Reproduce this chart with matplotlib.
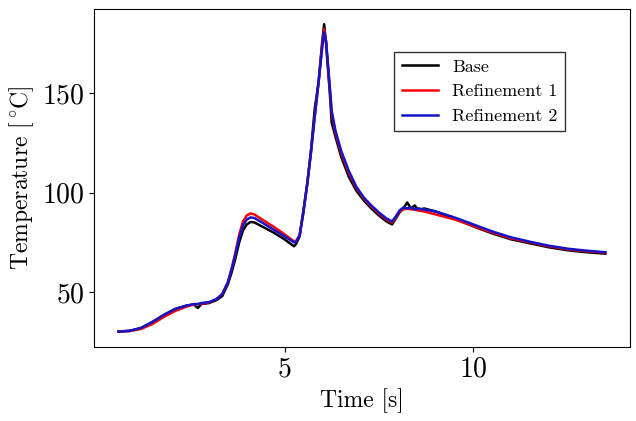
import matplotlib
matplotlib.use('Agg')
import matplotlib.pyplot as plt

# fonts: computer modern look
plt.rcParams['font.family'] = 'cmr10'
plt.rcParams['mathtext.fontset'] = 'cm'
plt.rcParams['axes.formatter.use_mathtext'] = True

# time [s]
time = [0.6, 0.9, 1.2, 1.5, 1.8, 2.1, 2.4, 2.6, 2.7, 2.8, 3.0, 3.2, 3.35, 3.5, 3.6,
        3.7, 3.8, 3.9, 4.0, 4.1, 4.2, 4.4, 4.7, 5.0, 5.25, 5.3, 5.4, 5.5, 5.6, 5.7,
        5.8, 5.9, 6.0, 6.05, 6.1, 6.2, 6.25, 6.35, 6.5, 6.7, 6.9, 7.1, 7.3, 7.5, 7.7,
        7.85, 7.95, 8.05, 8.15, 8.25, 8.35, 8.45, 8.55, 8.7, 9.0, 9.5, 10.0, 10.5,
        11.0, 11.5, 12.0, 12.5, 13.0, 13.5]

base = [30.2, 30.5, 32, 35, 38.5, 41.5, 43.2, 43.8, 42, 44, 44.5, 46, 48, 54, 60,
        67, 75, 81, 84, 85.2, 85, 83, 80, 76.5, 73, 74, 78, 91, 104, 121,
        142, 155, 176, 184.5, 175, 150, 135, 128, 118, 108, 101, 96, 92, 88.5, 85.5,
        84, 87, 90, 92, 95, 92, 93.5, 91, 92, 90.5, 87, 83, 79.5,
        76.5, 74.5, 72.5, 71, 70, 69.3]

ref1 = [30.2, 30.5, 31.5, 34, 37.5, 40.5, 42.7, 43.8, 44, 44.2, 44.8, 46.5, 49, 55, 62,
        70, 79, 85.5, 88.5, 89.5, 89, 86.5, 83, 79, 75.5, 75.5, 78.5, 90, 104, 120,
        138, 155, 174, 182, 176, 152, 140, 130, 120, 110, 102.5, 97, 93, 89.5, 86.5,
        85, 87.5, 90.5, 91.5, 92, 91.5, 91.5, 91, 90.5, 89, 86.5, 83.2, 80,
        77, 75, 73, 71.5, 70.5, 69.8]

ref2 = [30.2, 30.6, 32, 35, 38.5, 41.5, 43.2, 44, 44, 44.5, 45, 46.5, 49, 55, 61.5,
        69, 77.5, 83.5, 86.5, 87.5, 87.2, 85, 81.5, 78, 75, 75, 78.5, 90, 104, 120,
        138, 155, 173, 180.5, 176, 153, 141, 131, 121, 111, 103, 97.5, 93.5, 90, 87,
        85.5, 88, 91, 92.5, 92, 92.5, 91.5, 92, 91.5, 90.5, 87.5, 84, 80.5,
        77.5, 75.3, 73.3, 71.8, 70.8, 70]

fig = plt.figure(figsize=(6.36, 4.21), dpi=100)
ax = fig.add_axes([0.148, 0.176, 0.842, 0.803])

ax.plot(time, base, color='black', lw=1.8, label='Base')
ax.plot(time, ref1, color='red', lw=1.8, label='Refinement 1')
ax.plot(time, ref2, color='#1414c8', lw=1.8, label='Refinement 2')

ax.set_xticks([5, 10])
ax.set_yticks([50, 100, 150])
ax.tick_params(labelsize=20)
ax.set_xlabel('Time [s]', fontsize=17)
ax.set_ylabel(r'Temperature $[^\circ\!\mathrm{C}]$', fontsize=17)

leg = ax.legend(loc='upper right', bbox_to_anchor=(0.879, 0.873), fontsize=13,
                borderaxespad=0, fancybox=False, edgecolor='#333333', framealpha=1)

fig.savefig('out.png', dpi=100)
